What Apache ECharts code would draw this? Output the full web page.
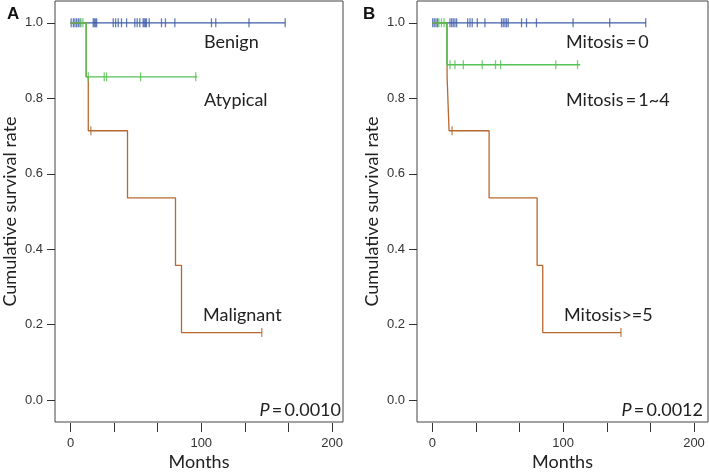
<!DOCTYPE html>
<html>
<head>
<meta charset="utf-8">
<script src="https://cdn.jsdelivr.net/npm/echarts@6/dist/echarts.min.js"></script>
<style>html,body{margin:0;padding:0;background:#fff}#c{width:709px;height:476px}</style>
</head>
<body>
<div id="c"></div>
<script>
// ---------- Data (Panel A: histology) ----------
const benignA_times = [0, 164.2];
const benignA_surv = [1.0, 1.0];
const benignA_censor = [0.5, 2.2, 3.4, 4.7, 6.0, 7.3, 17.4, 18.2, 19.2, 20.0, 32.7, 34.5, 36.5, 39.0, 42.9, 49.2, 51.0, 53.0, 55.6, 56.4, 57.4, 58.1, 60.2, 69.6, 72.6, 79.8, 107.8, 111.1, 136.5, 164.2];
const atypicalA_times = [0, 12.0, 97.0];
const atypicalA_surv = [1.0, 0.857, 0.857];
const atypicalA_censor = [8.0, 9.5, 13.6, 25.8, 27.6, 53.6, 95.8];
const malignantA_times = [0, 12.0, 13.6, 43.6, 80.3, 84.9, 146.3];
const malignantA_surv = [1.0, 0.857, 0.714, 0.536, 0.357, 0.179, 0.179];
const malignantA_censor = [15.6, 146.3];

// ---------- Data (Panel B: mitosis) ----------
const mit0B_times = [0, 163.1];
const mit0B_surv = [1.0, 1.0];
const mit0B_censor = [0.3, 1.5, 2.8, 4.0, 13.5, 14.8, 16.0, 17.3, 18.6, 27.0, 28.8, 30.5, 34.4, 40.2, 52.9, 54.2, 55.5, 56.7, 58.0, 68.2, 72.0, 79.6, 107.6, 135.6, 163.1];
const mit14B_times = [0, 11.1, 113.0];
const mit14B_surv = [1.0, 0.889, 0.889];
const mit14B_censor = [5.0, 7.0, 9.0, 13.5, 17.3, 23.7, 38.2, 48.3, 52.2, 94.4, 111.0];
const mit5B_times = [0, 11.3, 12.8, 43.4, 80.1, 84.4, 144.2];
const mit5B_surv = [1.0, 0.857, 0.714, 0.536, 0.357, 0.179, 0.179];
const mit5B_censor = [15.1, 144.2];

// ---------- Labels ----------
const xTickValues = [0, 33.333, 66.667, 100, 133.333, 166.667, 200];
const xLabelValues = [0, 100, 200];
const yTickValues = [0, 0.2, 0.4, 0.6, 0.8, 1.0];
const groupLabelsA = ['Benign', 'Atypical', 'Malignant'];
const groupLabelsB = ['Mitosis\u2009=\u20090', 'Mitosis\u2009=\u20091~4', 'Mitosis>=5'];
const pValues = ['0.0010', '0.0012'];
const panelLetters = ['A', 'B'];

const BLUE = '#3f5daa', GREEN = '#55c255', BROWN = '#b8682f';
const CAL = 'Lato, "Open Sans", sans-serif';
const ARI = '"Liberation Sans", Arial, sans-serif';

function survAt(times, surv, t) {
  let s = surv[0];
  for (let i = 0; i < times.length; i++) if (times[i] <= t) s = surv[i];
  return s;
}
function lineSeries(times, surv, color, idx, z) {
  return { type: 'line', xAxisIndex: idx, yAxisIndex: idx, step: 'end', symbol: 'none',
    data: times.map((t, i) => [t, surv[i]]), lineStyle: { color, width: 1.3 }, z, animation: false };
}
function censorSeries(times, surv, cens, color, idx, z) {
  return { type: 'scatter', xAxisIndex: idx, yAxisIndex: idx, symbol: 'rect', symbolSize: [1.3, 9],
    data: cens.map(t => [t, survAt(times, surv, t)]), itemStyle: { color }, z, animation: false };
}
function xAxis(idx, min, max) {
  return { type: 'value', gridIndex: idx, min, max, offset: 1,
    axisLine: { show: false, onZero: false }, splitLine: { show: false },
    axisTick: { show: true, length: 9, customValues: xTickValues, lineStyle: { color: '#333' } },
    axisLabel: { customValues: xLabelValues, margin: 14, fontFamily: ARI, fontSize: 13, color: '#333' },
    name: 'Months', nameLocation: 'middle', nameGap: 30, nameMoveOverlap: false,
    nameTextStyle: { fontFamily: CAL, fontSize: 18, color: '#222' } };
}
function yAxis(idx) {
  return { type: 'value', gridIndex: idx, min: -0.0579, max: 1.0579,
    axisLine: { show: false, onZero: false }, splitLine: { show: false },
    axisTick: { show: true, length: 8, customValues: yTickValues, lineStyle: { color: '#333' } },
    axisLabel: { customValues: yTickValues, margin: 12, fontFamily: ARI, fontSize: 13, color: '#333',
      formatter: v => v.toFixed(1) },
    name: 'Cumulative survival rate', nameLocation: 'middle', nameGap: 36, nameMoveOverlap: false,
    nameTextStyle: { fontFamily: CAL, fontSize: 18, color: '#222' } };
}
function txt(x, y, s, opts) {
  return Object.assign({ type: 'text', x, y, style: Object.assign({ text: s, fontFamily: CAL, fontSize: 18, fill: '#222', verticalAlign: 'middle' }, opts || {}) });
}
function pText(x, p) {
  return { type: 'text', x, y: 410, style: { rich: { i: { fontStyle: 'italic', fontFamily: CAL, fontSize: 18, fill: '#222' }, n: { fontFamily: CAL, fontSize: 18, fill: '#222' } }, text: '{i|P}{n|\u2009=\u2009' + p + '}', align: 'right', verticalAlign: 'middle' } };
}

const chart = echarts.init(document.getElementById('c'), null, { renderer: 'canvas' });
chart.setOption({
  animation: false,
  grid: [
    { left: 55, top: 1, width: 288, height: 424, show: true, borderColor: '#444', borderWidth: 1, backgroundColor: 'transparent' },
    { left: 417, top: 1, width: 291, height: 424, show: true, borderColor: '#444', borderWidth: 1, backgroundColor: 'transparent' }
  ],
  xAxis: [xAxis(0, -11.85, 208.4), xAxis(1, -11.7, 210.7)],
  yAxis: [yAxis(0), yAxis(1)],
  series: [
    lineSeries(benignA_times, benignA_surv, BLUE, 0, 2),
    censorSeries(benignA_times, benignA_surv, benignA_censor, BLUE, 0, 2),
    lineSeries(malignantA_times, malignantA_surv, BROWN, 0, 3),
    censorSeries(malignantA_times, malignantA_surv, malignantA_censor, BROWN, 0, 3),
    lineSeries(atypicalA_times, atypicalA_surv, GREEN, 0, 4),
    censorSeries(atypicalA_times, atypicalA_surv, atypicalA_censor, GREEN, 0, 4),
    lineSeries(mit0B_times, mit0B_surv, BLUE, 1, 2),
    censorSeries(mit0B_times, mit0B_surv, mit0B_censor, BLUE, 1, 2),
    lineSeries(mit5B_times, mit5B_surv, BROWN, 1, 3),
    censorSeries(mit5B_times, mit5B_surv, mit5B_censor, BROWN, 1, 3),
    lineSeries(mit14B_times, mit14B_surv, GREEN, 1, 4),
    censorSeries(mit14B_times, mit14B_surv, mit14B_censor, GREEN, 1, 4)
  ],
  graphic: [
    txt(7, 14, panelLetters[0], { fontFamily: ARI, fontWeight: 'bold', fontSize: 17, fill: '#111' }),
    txt(363, 14, panelLetters[1], { fontFamily: ARI, fontWeight: 'bold', fontSize: 17, fill: '#111' }),
    txt(204, 42, groupLabelsA[0]),
    txt(204, 100, groupLabelsA[1]),
    txt(203, 315, groupLabelsA[2]),
    txt(566, 42, groupLabelsB[0]),
    txt(566, 100, groupLabelsB[1]),
    txt(564, 315, groupLabelsB[2]),
    pText(341, pValues[0]),
    pText(703, pValues[1])
  ]
});
</script>
</body>
</html>
